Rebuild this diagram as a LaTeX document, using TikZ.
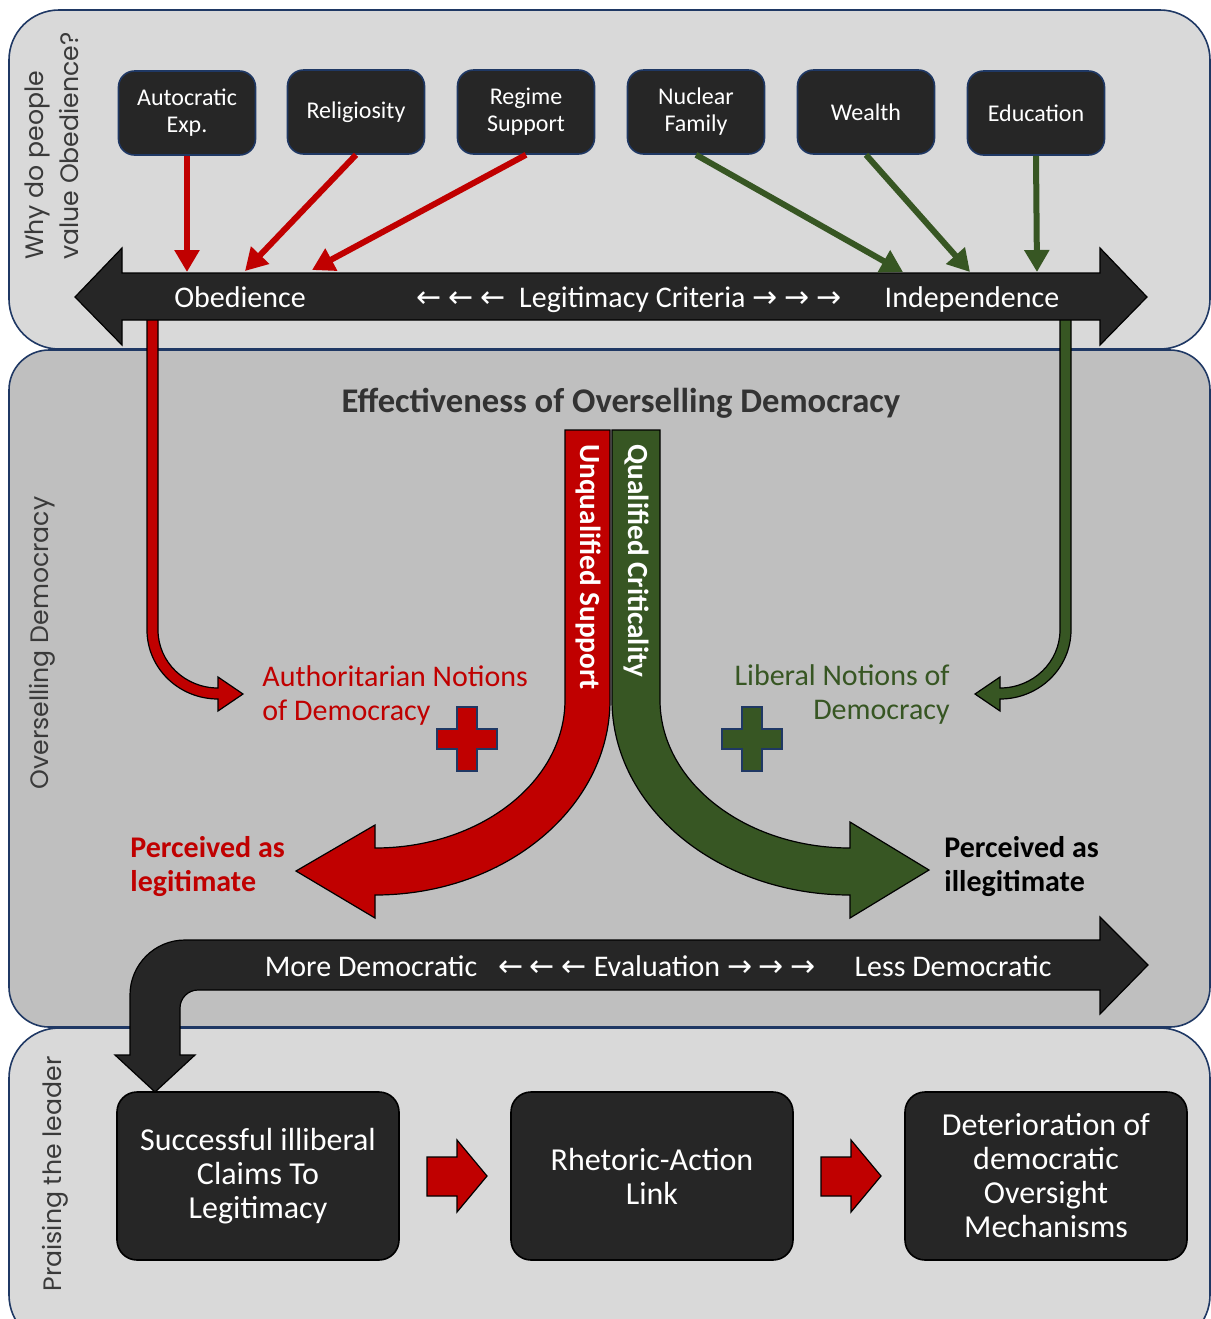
\documentclass[tikz,border=0pt]{standalone}
\usepackage{fontspec}
\setmainfont{Carlito}
\newfontfamily\labelfont{Poppins}
\newfontfamily\symfont{DejaVu Sans}
\usetikzlibrary{arrows.meta}
\definecolor{panellight}{HTML}{D9D9D9}
\definecolor{panelmid}{HTML}{BFBFBF}
\definecolor{navy}{HTML}{1F3864}
\definecolor{boxdark}{HTML}{262626}
\definecolor{darkred}{HTML}{C00000}
\definecolor{darkgreen}{HTML}{375623}
\definecolor{labelgray}{HTML}{3A3A3A}
\definecolor{titlegray}{HTML}{333333}
\newcommand{\arrL}{{\symfont ←}}
\newcommand{\arrR}{{\symfont →}}
\begin{document}
\begin{tikzpicture}[x=0.5pt,y=-0.5pt,
  panel/.style={draw=navy,line width=0.8pt},
  paneltitle/.style={font=\labelfont\fontsize{12.6}{17.5}\selectfont,text=labelgray,rotate=90,align=left,inner sep=0pt},
  factor/.style={draw=navy,line width=0.8pt,fill=boxdark,rounded corners=8pt,minimum width=68.5pt,minimum height=42pt,inner sep=0pt,text=white,align=center,font=\fontsize{12}{13.5}\selectfont},
  outcome/.style={draw=black,line width=0.8pt,fill=boxdark,rounded corners=10pt,minimum width=141pt,minimum height=84pt,inner sep=0pt,text=white,align=center,font=\fontsize{16}{17}\selectfont},
  redlink/.style={draw=darkred,line width=3pt,-{Triangle[length=11pt,width=12pt]}},
  greenlink/.style={draw=darkgreen,line width=3pt,-{Triangle[length=11pt,width=12pt]}},
  blockarrow/.style={draw=black,line width=0.6pt},
  bartext/.style={text=white,font=\fontsize{15}{17}\selectfont,inner sep=0pt},
  bandtext/.style={text=white,font=\bfseries\fontsize{14.6}{16}\selectfont,inner sep=0pt,rotate=-90},
  notion/.style={font=\fontsize{15}{17}\selectfont,inner sep=0pt},
  verdict/.style={font=\bfseries\fontsize{15}{17}\selectfont,inner sep=0pt,align=left},
  plus/.pic={\path[pic actions] (-10,-32) -- (10,-32) -- (10,-10) -- (30,-10) -- (30,10) -- (10,10) -- (10,32) -- (-10,32) -- (-10,10) -- (-30,10) -- (-30,-10) -- (-10,-10) -- cycle;}
]
\useasboundingbox (0,0) rectangle (1211,1319);
\clip (0,0) rectangle (1211,1319);

% three panels
\path[panel,fill=panellight,rounded corners=25pt] (9,10) rectangle (1210,349);
\path[panel,fill=panellight,rounded corners=25pt] (9,1028) rectangle (1210,1345);
\path[panel,fill=panelmid,rounded corners=20pt] (9,350) rectangle (1210,1027);

% panel titles
\node[paneltitle] (p1lab) at (52,146) {Why do people\\value Obedience?};
\node[paneltitle] (p2lab) at (42,643) {Overselling Democracy};
\node[paneltitle] (p3lab) at (55,1174) {Praising the leader};

% elbow arrows leaving the criteria bar
\path[blockarrow,fill=darkred] (147,310) -- (158,310) -- (158,630)
  .. controls (158,662) and (184.9,688) .. (218,688) -- (218,677) -- (243,694) -- (218,711) -- (218,699)
  .. controls (178.8,699) and (147,668.1) .. (147,630) -- cycle;
\path[blockarrow,fill=darkgreen] (1060,310) -- (1071,310) -- (1071,630)
  .. controls (1071,668.1) and (1039.2,699) .. (1000,699) -- (1000,711) -- (975,694) -- (1000,677) -- (1000,688)
  .. controls (1033.1,688) and (1060,662) .. (1060,630) -- cycle;

% legitimacy criteria double arrow
\path[blockarrow,fill=boxdark] (75,297) -- (122,248) -- (122,273) -- (1100,273) -- (1100,248) -- (1147,297)
  -- (1100,345) -- (1100,320) -- (122,320) -- (122,345) -- cycle;
\node[bartext] (obed) at (240,297) {Obedience};
\node[bartext] (crit) at (629,300) {\arrL\ \arrL\ \arrL\ \ Legitimacy Criteria \arrR\ \arrR\ \arrR};
\node[bartext] (indep) at (972,299.5) {Independence};
\coordinate (obA) at (187,272);
\coordinate (obB) at (245,271);
\coordinate (obC) at (312,270);
\coordinate (inA) at (903,272);
\coordinate (inB) at (970,272);
\coordinate (inC) at (1037,272);

% factors
\node[factor] (autoc) at (187,113) {Autocratic\\Exp.};
\node[factor] (relig) at (356,112) {Religiosity};
\node[factor] (regime) at (526,112) {Regime\\Support};
\node[factor] (nuclear) at (696,112) {Nuclear\\Family};
\node[factor] (wealth) at (866,112) {Wealth};
\node[factor] (educ) at (1036,113) {Education};

\draw[redlink] (autoc.south) -- (obA);
\draw[redlink] (relig.south) -- (obB);
\draw[redlink] (regime.south) -- (obC);
\draw[greenlink] (nuclear.south) -- (inA);
\draw[greenlink] (wealth.south) -- (inB);
\draw[greenlink] (educ.south) -- (inC);

% effectiveness split
\node[font=\bfseries\fontsize{17.3}{19}\selectfont,text=titlegray,inner sep=0pt] (eff) at (621,403) {Effectiveness of Overselling Democracy};
\path[blockarrow,fill=darkred] (565,430) -- (610,430) -- (610,700)
  .. controls (610,807.7) and (504.8,895) .. (375,895) -- (375,918) -- (296,871) -- (375,825) -- (375,848)
  .. controls (479.9,848) and (565,781.7) .. (565,700) -- cycle;
\path[blockarrow,fill=darkgreen] (612,430) -- (660,430) -- (660,700)
  .. controls (660,781.7) and (745.1,848) .. (850,848) -- (850,822) -- (929,870) -- (850,918) -- (850,895)
  .. controls (718.6,895) and (612,807.7) .. (612,700) -- cycle;
\node[bandtext] (unq) at (588,567) {Unqualified Support};
\node[bandtext] (qual) at (636,561) {Qualified Criticality};

\node[notion,text=darkred,anchor=west,align=left] (auth) at (262,695) {Authoritarian Notions\\of Democracy};
\node[notion,text=darkgreen,anchor=east,align=right] (lib) at (950,694) {Liberal Notions of\\Democracy};
\pic[fill=darkred,draw=navy,line width=0.8pt] at (467,739) {plus};
\pic[fill=darkgreen,draw=navy,line width=0.8pt] at (752,739) {plus};

\node[verdict,text=darkred,anchor=west] (legit) at (130,867) {Perceived as\\legitimate};
\node[verdict,text=black,anchor=west] (illegit) at (944,867) {Perceived as\\illegitimate};

% evaluation arrow bending down into the bottom row
\path[blockarrow,fill=boxdark] (1148,965) -- (1100,917) -- (1100,940) -- (185,940)
  .. controls (154.6,940) and (130,964.6) .. (130,995) -- (130,1055) -- (115,1055) -- (155,1092) -- (195,1055) -- (180,1055) -- (180,1008)
  .. controls (180,998.1) and (188.1,990) .. (198,990) -- (1100,990) -- (1100,1014) -- cycle;
\node[bartext] (moredem) at (371,966) {More Democratic};
\node[bartext] (evalu) at (657,966) {\arrL\ \arrL\ \arrL\ Evaluation \arrR\ \arrR\ \arrR};
\node[bartext] (lessdem) at (953,966) {Less Democratic};

% outcomes
\node[outcome] (claims) at (258,1176) {Successful illiberal\\Claims To\\Legitimacy};
\node[outcome] (link) at (652,1176) {Rhetoric-Action\\Link};
\node[outcome] (deter) at (1046,1176) {Deterioration of\\democratic\\Oversight\\Mechanisms};

\path[blockarrow,fill=darkred] (427,1157) -- (457,1157) -- (457,1140) -- (487,1176) -- (457,1212) -- (457,1196) -- (427,1196) -- cycle;
\path[blockarrow,fill=darkred] (821,1157) -- (851,1157) -- (851,1140) -- (881,1176) -- (851,1212) -- (851,1196) -- (821,1196) -- cycle;
\end{tikzpicture}
\end{document}
